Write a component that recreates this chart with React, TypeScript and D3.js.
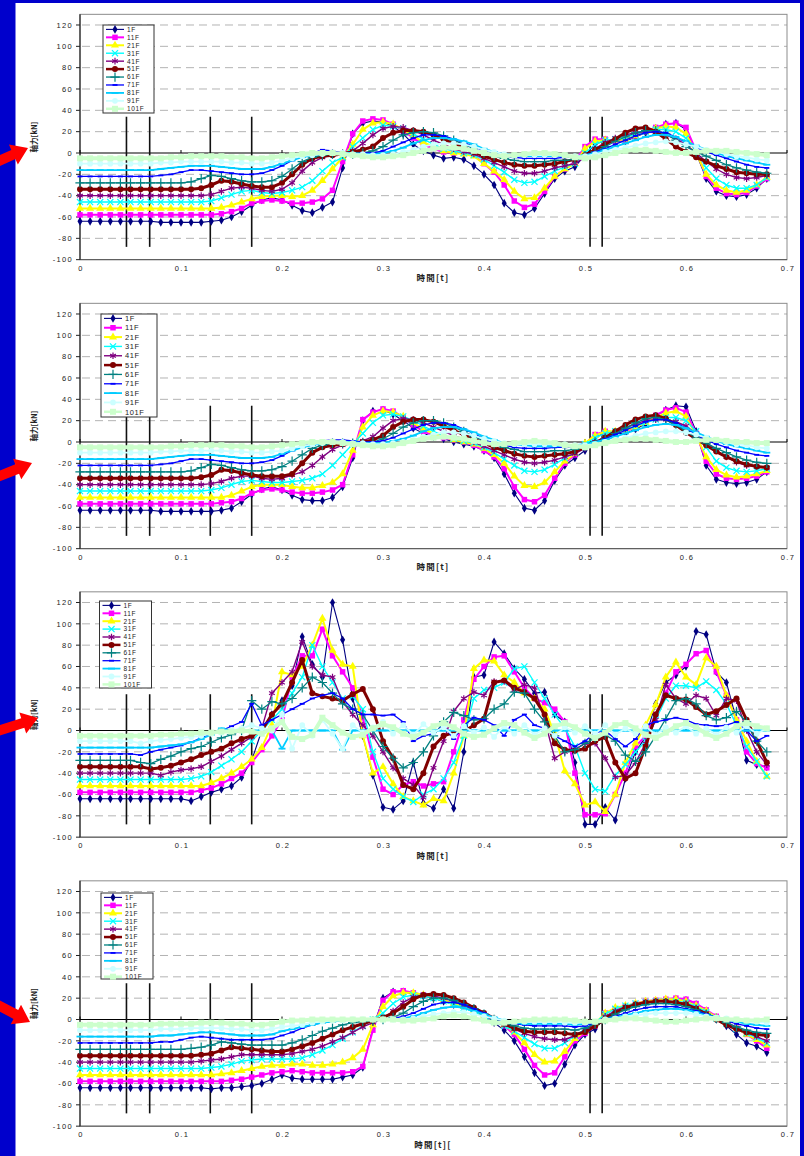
import * as d3 from 'd3';

// ---- data -------------------------------------------------------------
const T_STEP = 0.01;
const FLOORS = ['1F', '11F', '21F', '31F', '41F', '51F', '61F', '71F', '81F', '91F', '101F'];
const X_TICKS = [0, 0.1, 0.2, 0.3, 0.4, 0.5, 0.6, 0.7];
const Y_TICKS = [-100, -80, -60, -40, -20, 0, 20, 40, 60, 80, 100, 120];
const GRID_VALUES = [-80, -60, -40, -20, 20, 40, 60, 80, 100, 120];
const EVENT_TIMES = [0.046, 0.069, 0.129, 0.17, 0.505, 0.517];
const EVENT_RANGE = [-88, 34];

// panel 1
const p1f1 = [-64,-64,-64,-64,-64,-64,-64,-64,-65,-65, -65,-65,-65,-64,-63,-60,-55,-49,-44,-42, -44,-49,-54,-56,-51,-46,-14,18,28,30, 29,25,18,8,2,-2,-5,-4,-6,-12, -20,-30,-47,-56,-58,-52,-38,-24,-17,-13, -2,8,12,10,11,15,19,23,27,28, 22,0,-24,-36,-40,-41,-39,-33,-24];
const p1f11 = [-58,-58,-58,-58,-58,-58,-58,-58,-58,-58, -58,-58,-58,-58,-57,-55,-52,-47,-45,-44, -45,-47,-47,-46,-43,-35,-8,18,30,32, 31,27,21,14,8,4,1,0,0,-2, -10,-18,-30,-45,-51,-48,-36,-22,-15,-8, 6,13,13,11,12,16,20,24,27,28, 24,2,-22,-33,-38,-39,-37,-31,-24];
const p1f21 = [-52,-52,-52,-52,-52,-52,-52,-52,-52,-52, -52,-52,-52,-52,-51,-49,-46,-43,-41,-40, -40,-41,-40,-35,-26,-15,-4,8,22,28, 29,27,22,16,10,6,2,0,-1,-3, -10,-17,-25,-36,-43,-42,-33,-22,-15,-10, 4,11,12,12,13,16,20,23,25,24, 18,0,-20,-30,-35,-37,-35,-30,-23];
const p1f31 = [-46,-46,-46,-46,-46,-46,-46,-46,-46,-46, -46,-46,-46,-45,-42,-39,-36,-35,-37,-38, -37,-35,-32,-26,-17,-9,-4,6,14,22, 26,25,23,18,13,8,4,2,0,-2, -6,-12,-18,-25,-28,-27,-22,-17,-13,-10, 0,8,12,13,15,17,20,22,22,20, 14,2,-14,-24,-30,-33,-33,-30,-23];
const p1f41 = [-40,-40,-40,-40,-40,-40,-40,-40,-40,-40, -40,-40,-40,-39,-36,-33,-32,-33,-35,-36, -34,-28,-17,-9,-4,-2,0,2,9,17, 23,25,24,21,17,12,8,4,1,-1, -5,-9,-13,-17,-19,-19,-17,-14,-12,-10, -4,4,10,14,17,19,20,19,17,13, 8,0,-8,-15,-20,-23,-24,-23,-21];
const p1f51 = [-34,-34,-34,-34,-34,-34,-34,-34,-34,-34, -34,-34,-33,-30,-26,-27,-29,-31,-32,-32, -28,-20,-11,-5,-3,-2,-1,1,3,6, 14,19,21,21,20,17,13,9,5,1, -3,-6,-9,-11,-12,-12,-11,-10,-8,-6, -2,3,8,13,19,23,24,20,13,6, 1,-4,-8,-12,-15,-18,-19,-20,-20];
const p1f61 = [-28,-28,-28,-28,-28,-28,-28,-28,-28,-28, -28,-27,-24,-21,-22,-24,-26,-27,-27,-26, -22,-15,-8,-4,-2,-1,-1,-1,0,2, 6,12,17,19,20,19,16,12,8,4, 0,-3,-5,-7,-8,-8,-8,-7,-7,-6, -3,1,6,11,15,19,21,21,18,12, 6,1,-3,-7,-11,-14,-16,-18,-19];
const p1f71 = [-22,-22,-22,-22,-22,-22,-22,-22,-21,-20, -18,-16,-16,-17,-18,-19,-20,-20,-19,-16, -12,-7,-3,0,3,2,0,-1,0,0, 2,6,10,14,17,17,16,13,10,6, 2,-1,-3,-4,-5,-5,-5,-5,-4,-4, -2,1,4,8,12,16,19,20,19,15, 10,5,1,-2,-5,-8,-11,-13,-14];
const p1f81 = [-16,-16,-16,-16,-16,-16,-16,-16,-15,-14, -13,-12,-12,-12,-13,-14,-15,-15,-15,-13, -10,-7,-4,-2,-1,0,0,0,-1,-1, 0,2,5,9,12,14,14,13,11,8, 4,1,-1,-2,-3,-3,-3,-3,-3,-3, -2,0,3,6,9,12,15,17,17,15, 11,7,3,0,-3,-5,-7,-9,-11];
const p1f91 = [-10,-10,-10,-10,-10,-10,-10,-10,-9,-9, -8,-8,-8,-8,-8,-9,-9,-10,-10,-9, -7,-5,-3,-2,-1,0,0,-1,-1,-2, -2,-1,1,3,6,8,9,9,8,6, 3,1,-1,-2,-2,-2,-2,-2,-2,-3, -3,-1,1,3,5,7,9,10,11,10, 8,6,3,1,-1,-3,-4,-6,-7];
const p1f101 = [-5,-5,-5,-5,-5,-5,-5,-5,-5,-4, -4,-3,-3,-3,-3,-4,-4,-5,-5,-4, -3,-2,-1,0,0,0,-1,-2,-3,-4, -4,-3,-2,0,2,4,5,5,4,2, 0,-2,-3,-2,-1,0,0,-1,-2,-4, -5,-4,-2,0,2,3,3,2,1,0, 0,1,2,2,2,1,0,-1,-2];

// panel 2
const p2f1 = [-64,-64,-64,-64,-64,-64,-64,-64,-65,-65, -65,-65,-65,-65,-64,-62,-56,-49,-44,-42, -45,-50,-54,-55,-55,-52,-42,-15,20,29, 30,26,20,13,8,5,3,0,-2,-4, -8,-15,-30,-48,-62,-64,-55,-36,-22,-15, -8,4,9,8,8,12,17,24,30,34, 33,10,-22,-35,-38,-39,-38,-35,-28];
const p2f11 = [-58,-58,-58,-58,-58,-58,-58,-58,-58,-58, -58,-58,-58,-58,-57,-56,-53,-48,-45,-44, -45,-47,-48,-48,-47,-45,-40,-12,21,28, 31,29,23,16,10,6,4,2,0,-3, -8,-14,-25,-42,-54,-56,-50,-34,-20,-12, -2,7,10,9,10,14,19,25,30,32, 28,8,-18,-30,-34,-35,-34,-32,-28];
const p2f21 = [-52,-52,-52,-52,-52,-52,-52,-52,-52,-52, -52,-52,-52,-52,-52,-50,-46,-42,-40,-40, -40,-42,-43,-43,-41,-38,-30,-8,14,25, 29,28,24,18,12,8,5,2,0,-2, -6,-12,-20,-32,-41,-42,-38,-28,-18,-11, -1,6,10,10,11,14,18,23,27,29, 24,6,-14,-26,-31,-33,-32,-30,-27];
const p2f31 = [-46,-46,-46,-46,-46,-46,-46,-46,-46,-46, -46,-46,-46,-45,-43,-40,-37,-36,-37,-38, -38,-37,-36,-34,-30,-22,-12,-2,8,18, 25,26,24,20,15,10,6,3,1,-1, -5,-10,-16,-22,-27,-28,-26,-21,-15,-10, -2,4,8,10,12,15,18,21,23,23, 20,10,-5,-18,-24,-27,-28,-27,-25];
const p2f41 = [-40,-40,-40,-40,-40,-40,-40,-40,-40,-40, -40,-40,-40,-39,-37,-34,-32,-32,-34,-35, -34,-31,-28,-22,-14,-7,-3,-1,1,5, 13,20,22,21,18,14,10,6,3,0, -4,-8,-12,-16,-19,-20,-19,-17,-14,-11, -6,0,5,9,13,17,20,21,21,19, 15,8,0,-8,-14,-19,-22,-23,-24];
const p2f51 = [-34,-34,-34,-34,-34,-34,-34,-34,-34,-34, -34,-34,-33,-31,-26,-27,-29,-31,-32,-32, -32,-30,-20,-10,-5,-3,-2,-1,0,2, 6,14,19,21,21,19,15,11,7,3, -1,-5,-8,-11,-13,-14,-13,-12,-11,-9, -5,-1,4,10,16,21,24,25,22,16, 9,3,-3,-9,-14,-18,-21,-23,-24];
const p2f61 = [-28,-28,-28,-28,-28,-28,-28,-28,-28,-28, -28,-27,-24,-21,-22,-24,-26,-27,-27,-26, -23,-18,-12,-6,-3,-1,-1,-1,-1,0, 3,8,14,18,20,20,18,14,10,5, 1,-2,-5,-7,-9,-9,-9,-8,-8,-7, -4,0,3,8,13,18,22,23,21,16, 10,4,-1,-6,-10,-14,-17,-19,-20];
const p2f71 = [-22,-22,-22,-22,-22,-22,-22,-22,-21,-20, -18,-16,-16,-17,-18,-19,-20,-20,-19,-17, -13,-8,-4,-1,1,2,2,1,0,0, 1,4,8,12,16,18,18,16,12,8, 3,-1,-3,-5,-6,-6,-6,-5,-5,-4, -3,0,3,7,11,15,19,21,21,18, 13,7,2,-2,-5,-8,-10,-12,-13];
const p2f81 = [-16,-16,-16,-16,-16,-16,-16,-16,-15,-14, -13,-12,-12,-12,-13,-14,-15,-15,-15,-14, -11,-8,-5,-3,-1,0,0,0,-1,-1, -1,1,3,6,10,13,14,14,12,9, 5,2,-1,-2,-3,-4,-4,-4,-3,-3, -2,0,2,5,8,11,14,16,17,16, 13,9,5,1,-2,-4,-6,-8,-10];
const p2f91 = [-10,-10,-10,-10,-10,-10,-10,-10,-9,-9, -8,-8,-8,-8,-8,-9,-9,-10,-10,-9, -8,-6,-4,-2,-1,0,0,-1,-1,-2, -2,-1,0,2,5,7,9,9,8,6, 3,1,-1,-2,-2,-2,-2,-2,-2,-3, -3,-2,0,2,4,6,8,9,10,10, 9,7,4,2,0,-2,-3,-5,-6];
const p2f101 = [-5,-5,-5,-5,-5,-5,-5,-5,-5,-4, -4,-3,-3,-3,-3,-4,-4,-5,-5,-4, -3,-2,-1,0,0,0,-1,-2,-3,-4, -4,-3,-1,1,3,4,5,4,3,1, -1,-2,-2,-1,0,1,0,-1,-3,-4, -5,-3,-1,1,2,3,3,2,1,0, 0,1,2,2,1,0,0,-1,-1];

// panel 3
const p3f1 = [-64,-64,-64,-64,-64,-64,-64,-64,-64,-64, -64,-66,-62,-58,-55,-52,-44,-28,0,15, 28,42,88,62,50,120,85,30,-5,-42, -72,-74,-66,-30,-68,-73,-55,-73,-20,50, 52,83,72,58,48,35,36,15,8,-30, -88,-88,-72,-84,-45,-20,-6,25,45,52, 60,93,90,55,45,10,-28,-32,-34];
const p3f11 = [-58,-58,-58,-58,-58,-58,-58,-58,-58,-58, -58,-58,-56,-54,-50,-45,-40,-30,-18,-5, 10,50,70,70,95,70,55,40,12,-25, -55,-60,-51,-48,-52,-50,-48,-20,10,48, 60,69,70,55,40,30,26,20,8,-40, -79,-79,-78,-60,-40,-15,-5,15,35,55, 62,72,75,55,33,10,-20,-31,-35];
const p3f21 = [-52,-52,-52,-52,-52,-52,-52,-52,-52,-52, -52,-52,-52,-49,-45,-40,-34,-27,-16,5, 55,52,60,80,105,75,62,60,-5,-40, -34,-50,-62,-66,-70,-64,-66,-40,-5,58, 66,65,52,45,35,30,20,-3,-38,-50, -70,-67,-76,-60,-30,-12,5,24,50,64, 50,43,68,60,33,10,-10,-29,-43];
const p3f31 = [-46,-46,-46,-46,-46,-46,-46,-46,-46,-46, -46,-45,-43,-39,-33,-27,-20,-10,0,10, 20,35,50,80,60,45,30,32,20,-20, -45,-55,-62,-67,-60,-55,-45,-30,-5,30, 38,40,45,58,60,45,30,15,2,-15, -40,-55,-57,-42,-32,-20,-10,10,30,42, 42,40,46,38,25,5,-15,-29,-43];
const p3f41 = [-40,-40,-40,-40,-40,-40,-40,-40,-42,-39, -37,-36,-34,-29,-24,-18,-12,-6,2,35, 45,55,83,60,52,50,27,15,5,-5, -20,-35,-45,-51,-63,-35,-10,18,30,36, 33,46,46,38,43,40,10,-26,-20,-18, -12,-12,-26,-44,-42,-30,-12,10,43,30, 25,33,30,14,30,28,0,-20,-32];
const p3f51 = [-34,-34,-34,-34,-34,-34,-34,-36,-35,-33, -30,-27,-23,-20,-17,-12,-8,-5,0,15, 25,45,66,35,32,30,28,34,39,20, -10,-26,-51,-55,-40,-15,-5,-2,-1,5, 11,45,47,40,36,30,15,-12,-18,-19, -17,-10,-6,-30,-45,-40,-15,15,33,30, 29,22,15,18,24,30,10,-10,-30];
const p3f61 = [-28,-28,-28,-28,-28,-28,-30,-31,-27,-24, -20,-17,-15,-11,-7,-4,0,28,20,27, 25,30,40,50,45,35,25,20,15,0, -15,-26,-35,-30,-20,-5,8,17,14,10, 11,20,25,36,35,20,8,-5,-20,-18, -12,-7,-4,-10,-23,-29,-20,-5,11,28, 30,25,14,10,12,18,8,-10,-20];
const p3f71 = [-22,-22,-22,-22,-22,-22,-23,-20,-18,-16, -14,-11,-7,-3,0,4,8,25,5,10, 15,20,25,30,33,35,30,20,15,15, 14,15,8,-10,-5,-3,5,-8,5,12, 10,5,-5,10,15,5,2,-5,-10,-15, -10,-2,0,-8,-15,-8,5,8,10,12, 10,6,5,4,5,8,0,-10,-5];
const p3f81 = [-16,-16,-16,-16,-16,-16,-16,-16,-15,-14, -13,-11,-8,-4,2,0,0,0,0,0, -17,0,0,0,0,0,-18,0,0,0, 0,0,0,0,0,0,0,0,0,0, 0,0,0,0,0,0,0,0,0,0, 0,0,0,0,0,0,0,0,0,0, 0,0,0,0,0,0,0,0,0];
const p3f91 = [-10,-10,-10,-10,-10,-10,-12,-10,-9,-8, -7,-6,-5,-3,-2,0,2,5,2,0, 15,-17,5,-5,10,-3,-17,5,-2,3, 8,-3,5,-4,6,-2,3,-5,4,-2, 3,-6,4,-3,5,-4,2,-5,3,-2, 4,-3,5,-4,2,-3,4,-4,3,-2, 4,-3,2,-4,3,-2,4,-3,2];
const p3f101 = [-5,-5,-5,-5,-5,-5,-5,-5,-4,-4, -3,-3,-2,-2,-1,-1,0,-1,-3,2, 8,-6,-8,-4,12,5,-2,-6,-4,2, 6,3,-3,-6,-2,4,7,3,-3,-6, -4,2,7,5,-2,-7,-3,4,7,3, -3,-7,-2,5,7,2,-4,-7,-2,4, 7,3,-3,-7,-3,4,7,4,2];

// panel 4
const p4f1 = [-64,-64,-64,-64,-64,-64,-64,-64,-64,-64, -64,-64,-64,-65,-64,-64,-63,-62,-60,-56, -52,-55,-56,-56,-56,-56,-54,-52,-45,-8, 20,26,26,24,22,20,17,14,11,7, 3,-3,-10,-20,-35,-50,-62,-60,-42,-24, -14,-9,2,8,11,14,16,17,18,19, 18,14,8,0,-6,-14,-22,-25,-31];
const p4f11 = [-58,-58,-58,-58,-58,-58,-58,-58,-58,-58, -58,-58,-58,-58,-58,-57,-56,-54,-52,-50, -49,-48,-49,-50,-50,-50,-50,-49,-44,-10, 18,26,27,25,23,21,18,15,12,8, 4,-1,-6,-14,-28,-43,-52,-50,-35,-20, -13,-6,6,10,12,15,17,18,19,20, 19,15,9,3,-2,-8,-14,-20,-27];
const p4f21 = [-52,-52,-52,-52,-52,-52,-52,-52,-52,-52, -52,-52,-52,-52,-51,-50,-48,-46,-44,-43, -43,-42,-42,-43,-43,-42,-40,-36,-28,-5, 12,22,25,25,23,21,18,15,12,8, 4,-1,-5,-12,-22,-33,-40,-39,-30,-18, -11,-4,6,11,13,15,17,18,19,19, 17,13,8,2,-3,-8,-14,-19,-24];
const p4f31 = [-46,-46,-46,-46,-46,-46,-46,-46,-46,-46, -46,-46,-46,-45,-44,-42,-39,-38,-37,-37, -37,-37,-36,-33,-29,-24,-18,-12,-6,0, 6,15,21,23,22,20,17,14,11,7, 3,-2,-6,-11,-17,-23,-27,-27,-22,-15, -9,-3,5,10,13,15,16,17,17,17, 16,12,7,1,-4,-9,-13,-17,-22];
const p4f41 = [-40,-40,-40,-40,-40,-40,-40,-40,-40,-40, -40,-40,-39,-38,-37,-35,-33,-33,-33,-33, -33,-32,-30,-28,-25,-21,-17,-12,-7,-3, 1,8,16,21,23,22,20,17,13,9, 4,-1,-5,-9,-13,-16,-18,-19,-19,-15, -10,-4,3,8,12,14,16,17,17,16, 15,11,6,1,-4,-8,-12,-16,-20];
const p4f51 = [-34,-34,-34,-34,-34,-34,-34,-34,-34,-34, -34,-34,-33,-32,-29,-26,-27,-28,-29,-30, -30,-28,-25,-22,-18,-14,-10,-7,-4,-1, 2,6,12,19,23,24,23,20,16,11, 6,1,-4,-8,-11,-12,-12,-12,-13,-14, -12,-6,1,6,11,14,16,17,17,16, 14,10,5,0,-5,-9,-12,-14,-15];
const p4f61 = [-28,-28,-28,-28,-28,-28,-28,-28,-28,-28, -28,-27,-26,-24,-21,-22,-23,-24,-24,-24, -24,-22,-19,-15,-11,-8,-5,-3,-2,-1, 0,2,6,12,17,20,20,18,14,10, 5,0,-3,-6,-8,-9,-9,-9,-9,-10, -8,-4,0,5,9,12,14,15,15,14, 12,9,5,1,-3,-7,-10,-12,-13];
const p4f71 = [-22,-22,-22,-22,-22,-22,-22,-22,-21,-21, -19,-17,-16,-17,-18,-19,-19,-19,-19,-18, -15,-12,-8,-5,-3,-2,-1,0,0,0, 0,1,3,6,10,14,16,16,14,10, 6,1,-2,-4,-5,-6,-6,-6,-6,-7, -6,-3,0,3,6,9,11,12,12,12, 10,8,5,2,-1,-4,-6,-8,-9];
const p4f81 = [-16,-16,-16,-16,-16,-16,-16,-16,-15,-15, -14,-13,-12,-12,-13,-14,-15,-15,-15,-14, -11,-9,-7,-5,-3,-2,-1,0,0,0, 0,0,1,3,6,9,11,12,11,8, 5,2,-1,-3,-4,-4,-4,-4,-4,-5, -4,-2,0,2,4,6,8,9,10,10, 9,7,4,2,0,-2,-4,-5,-6];
const p4f91 = [-10,-10,-10,-10,-10,-10,-10,-10,-9,-9, -9,-8,-8,-8,-8,-9,-9,-10,-10,-9, -7,-6,-5,-3,-2,-1,-1,0,0,0, 0,0,0,1,3,5,6,7,7,5, 3,1,-1,-2,-2,-2,-2,-2,-3,-3, -3,-2,0,1,3,4,5,6,6,6, 6,5,3,2,1,0,-1,-2,-3];
const p4f101 = [-5,-5,-5,-5,-5,-5,-5,-5,-4,-4, -4,-4,-3,-3,-3,-4,-4,-5,-5,-4, -2,-1,-1,0,0,0,0,0,0,0, 0,0,-1,-1,0,1,3,4,3,1, -1,-3,-3,-2,-1,0,0,0,0,-1, -2,-2,-1,0,1,1,0,-1,-2,-2, -1,0,1,1,0,0,-1,-1,0];

const PANEL_SERIES = [
  [p1f1, p1f11, p1f21, p1f31, p1f41, p1f51, p1f61, p1f71, p1f81, p1f91, p1f101],
  [p2f1, p2f11, p2f21, p2f31, p2f41, p2f51, p2f61, p2f71, p2f81, p2f91, p2f101],
  [p3f1, p3f11, p3f21, p3f31, p3f41, p3f51, p3f61, p3f71, p3f81, p3f91, p3f101],
  [p4f1, p4f11, p4f21, p4f31, p4f41, p4f51, p4f61, p4f71, p4f81, p4f91, p4f101],
];
const X_TITLES = ['時間[t]', '時間[t]', '時間[t]', '時間[t]['];
const Y_TITLE = '軸力[kN]';

// ---- layout / style -----------------------------------------------------
const W = 804;
const H = 1156;
const X0 = 80;
const X1 = 787;
const FONT = '"Liberation Sans", Arial, sans-serif';
const CJK = '"Noto Sans CJK JP", sans-serif';

const PANELS = [
  { zero: 153, legend: { x: 103, y: 25, w: 51, h: 88, row: 7.94, font: 6.5 }, arrow: { x: 28, y: 148, a: -24 } },
  { zero: 442, legend: { x: 101, y: 314, w: 56, h: 103, row: 9.34, font: 7.5 }, arrow: { x: 32, y: 463, a: -22 } },
  { zero: 730.5, legend: { x: 99.5, y: 601, w: 52, h: 87, row: 7.9, font: 6.5 }, arrow: { x: 38, y: 718, a: -18 } },
  { zero: 1019.5, legend: { x: 101, y: 893, w: 52, h: 86, row: 7.93, font: 6.5 }, arrow: { x: 30, y: 1022, a: 28 } },
];

const STYLES = [
  { color: '#000080', width: 1.1, marker: 'diamond', size: 22 },
  { color: '#FF00FF', width: 2, marker: 'square', size: 30 },
  { color: '#FFFF00', width: 2, marker: 'triangle', size: 28 },
  { color: '#00FFFF', width: 1.4, marker: 'times', size: 26 },
  { color: '#800080', width: 1.4, marker: 'asterisk', size: 30 },
  { color: '#800000', width: 3, marker: 'circle', size: 28 },
  { color: '#008080', width: 1.3, marker: 'plus', size: 30 },
  { color: '#0000FF', width: 1.3, marker: 'dash', size: 5 },
  { color: '#00CCFF', width: 1.8, marker: 'dash', size: 7 },
  { color: '#CCFFFF', width: 1.8, marker: 'circle', size: 26 },
  { color: '#CCFFCC', width: 4, marker: 'square', size: 36 },
];

const SYMBOLS: Record<string, any> = {
  diamond: d3.symbolDiamond,
  square: d3.symbolSquare,
  triangle: d3.symbolTriangle,
  times: d3.symbolTimes,
  asterisk: d3.symbolAsterisk,
  plus: d3.symbolPlus,
  circle: d3.symbolCircle,
};
const FILLED = new Set(['diamond', 'square', 'triangle', 'circle']);

function markerPath(kind: string, size: number) {
  if (kind === 'dash') return `M${-size / 2},0H${size / 2}`;
  return d3.symbol(SYMBOLS[kind], size)() || '';
}

function Marker({ s, x, y }: { s: any; x: number; y: number }) {
  const d = markerPath(s.marker, s.size);
  const filled = FILLED.has(s.marker);
  return (
    <path
      d={d}
      transform={`translate(${x},${y})`}
      fill={filled ? s.color : 'none'}
      stroke={filled ? 'none' : s.color}
      strokeWidth={s.marker === 'dash' ? 1.8 : 1.2}
    />
  );
}

function Arrow({ x, y, a }: { x: number; y: number; a: number }) {
  const pts = [[0, 0], [-16, -11], [-16, -5], [-60, -5], [-60, 5], [-16, 5], [-16, 11]];
  return (
    <polygon
      points={pts.map((p) => p.join(',')).join(' ')}
      transform={`translate(${x},${y}) rotate(${a})`}
      fill="#FF0000"
    />
  );
}

function Panel({ cfg, series, xTitle }: { cfg: any; series: number[][]; xTitle: string }) {
  const z = cfg.zero;
  const x = d3.scaleLinear().domain([0, 0.7]).range([X0, X1]);
  const y = d3.scaleLinear().domain([-100, 130]).range([z + 106.67, z - 138.67]);
  const line = d3
    .line<number>()
    .x((_, i) => x(i * T_STEP))
    .y((v) => y(v));
  const top = y(130);
  const bottom = y(-100);
  const lg = cfg.legend;

  return (
    <g>
      {/* gridlines */}
      {GRID_VALUES.map((v) => (
        <line key={v} x1={X0 + 2} x2={X1} y1={y(v)} y2={y(v)} stroke="#b4b4b4" strokeWidth={1} strokeDasharray="8,5" />
      ))}
      {/* plot frame */}
      <rect x={X0} y={top} width={X1 - X0} height={bottom - top} fill="none" stroke="#8c8c8c" strokeWidth={1} />
      <line x1={X0} x2={X1} y1={bottom} y2={bottom} stroke="#555" strokeWidth={1} />
      <line x1={X0} x2={X0} y1={top} y2={bottom} stroke="#222" strokeWidth={1.2} />
      <line x1={X0} x2={X1} y1={y(0)} y2={y(0)} stroke="#000" strokeWidth={1.2} />
      {X_TICKS.map((t) => (
        <line key={t} x1={x(t)} x2={x(t)} y1={y(0) - 3} y2={y(0)} stroke="#000" strokeWidth={1} />
      ))}
      {Y_TICKS.map((v) => (
        <g key={v}>
          <line x1={X0 - 4} x2={X0} y1={y(v)} y2={y(v)} stroke="#222" strokeWidth={1} />
          <text x={73} y={y(v) + 2.7} textAnchor="end" fontFamily={FONT} fontSize={7.5} letterSpacing={1.3} fill="#222">
            {v}
          </text>
        </g>
      ))}
      {X_TICKS.map((t) => (
        <text key={t} x={x(t) + 1} y={bottom + 11} textAnchor="middle" fontFamily={FONT} fontSize={7.5} letterSpacing={1.3} fill="#222">
          {t === 0 ? '0' : t.toFixed(1)}
        </text>
      ))}
      <text x={433} y={z + 128} textAnchor="middle" fontFamily={CJK} fontSize={8.5} fontWeight={700} letterSpacing={1.2} fill="#222">
        {xTitle}
      </text>
      <text
        transform={`translate(37,${z - 16}) rotate(-90)`}
        textAnchor="middle"
        fontFamily={CJK}
        fontSize={7.5}
        fontWeight={700}
        fill="#222"
      >
        {Y_TITLE}
      </text>

      {/* event lines */}
      {EVENT_TIMES.map((t) => (
        <line key={t} x1={x(t)} x2={x(t)} y1={y(EVENT_RANGE[0])} y2={y(EVENT_RANGE[1])} stroke="#111" strokeWidth={1.6} />
      ))}

      {/* series */}
      {series.map((vals, si) => {
        const s = STYLES[si];
        return (
          <g key={FLOORS[si]}>
            <path d={line(vals) || ''} fill="none" stroke={s.color} strokeWidth={s.width} strokeLinejoin="round" />
            {vals.map((v, i) => (
              <Marker key={i} s={s} x={x(i * T_STEP)} y={y(v)} />
            ))}
          </g>
        );
      })}

      {/* legend */}
      <rect x={lg.x} y={lg.y} width={lg.w} height={lg.h} fill="#fff" stroke="#333" strokeWidth={1} />
      {FLOORS.map((f, i) => {
        const s = STYLES[i];
        const ly = lg.y + 4.4 + i * lg.row;
        return (
          <g key={f}>
            <line x1={lg.x + 3} x2={lg.x + 21} y1={ly} y2={ly} stroke={s.color} strokeWidth={Math.min(s.width, 2.5)} />
            <Marker s={s} x={lg.x + 12} y={ly} />
            <text x={lg.x + 24} y={ly + lg.font * 0.36} fontFamily={FONT} fontSize={lg.font} letterSpacing={0.6} fill="#222">
              {f}
            </text>
          </g>
        );
      })}

      <Arrow x={cfg.arrow.x} y={cfg.arrow.y} a={cfg.arrow.a} />
    </g>
  );
}

export default function App() {
  return (
    <div style={{ position: 'absolute', left: 0, top: 0 }}>
      <svg width={W} height={H} viewBox={`0 0 ${W} ${H}`} style={{ display: 'block' }}>
        <rect x={0} y={0} width={W} height={H} fill="#0000CC" />
        <rect x={15.5} y={3} width={784.5} height={H - 3} fill="#fff" />
        {PANELS.map((cfg, i) => (
          <Panel key={i} cfg={cfg} series={PANEL_SERIES[i]} xTitle={X_TITLES[i]} />
        ))}
      </svg>
    </div>
  );
}
